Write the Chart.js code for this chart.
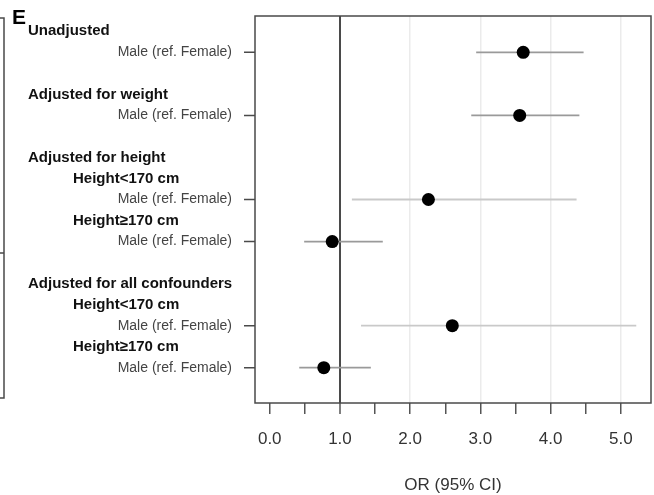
<!DOCTYPE html>
<html>
<head>
<meta charset="utf-8">
<script src="https://cdn.jsdelivr.net/npm/chart.js@4"></script>
<style>
  html, body { margin: 0; padding: 0; background: #fff; }
</style>
</head>
<body>
<canvas id="chart-or" width="654" height="495"></canvas>
<script>
// Odds ratios (male vs female), one row per estimate
const estRows = [1, 4, 8, 10, 14, 16];
const orValues = [3.61, 3.56, 2.26, 0.89, 2.60, 0.77];
const ciLower = [2.94, 2.87, 1.17, 0.49, 1.30, 0.42];
const ciUpper = [4.47, 4.41, 4.37, 1.61, 5.22, 1.44];
const estLabel = 'Male (ref. Female)';

// group headings on the left: text, row, nesting level
const headingText = ['Unadjusted', 'Adjusted for weight', 'Adjusted for height', 'Height<170 cm', 'Height≥170 cm',
    'Adjusted for all confounders', 'Height<170 cm', 'Height≥170 cm'];
const headingRow = [0, 3, 6, 7, 9, 12, 13, 15];
const headingLevel = [0, 0, 0, 1, 1, 0, 1, 1];

const xTicks = [0, 0.5, 1, 1.5, 2, 2.5, 3, 3.5, 4, 4.5, 5];
const refValue = 1;
const panelLetter = 'E';

const FONT = "'Liberation Sans', Arial, sans-serif";
Chart.defaults.font.family = FONT;

function gridColor(v) {
    if (v === refValue) return '#4a4a4a';
    if (Number.isInteger(v) && v > refValue) return '#ebebeb';
    return 'rgba(0,0,0,0)';
}

// frame, row ticks, left labels and the edge of the neighbouring panel
const sidePanel = {
    id: 'sidePanel',
    afterDraw(chart) {
        const { ctx, chartArea: a, scales: { y } } = chart;
        ctx.save();

        ctx.strokeStyle = '#4a4a4a';
        ctx.lineWidth = 1.5;
        ctx.strokeRect(a.left, a.top, a.right - a.left, a.bottom - a.top);

        ctx.beginPath();
        estRows.forEach(r => {
            const py = y.getPixelForValue(r);
            ctx.moveTo(a.left - 11, py);
            ctx.lineTo(a.left, py);
        });
        ctx.stroke();

        // right edge of previous panel
        ctx.beginPath();
        ctx.moveTo(0, 18); ctx.lineTo(4, 18); ctx.lineTo(4, 398); ctx.lineTo(0, 398);
        ctx.moveTo(0, 253); ctx.lineTo(4, 253);
        ctx.stroke();

        ctx.textBaseline = 'middle';
        ctx.fillStyle = '#111';
        ctx.font = 'bold 15px ' + FONT;
        ctx.textAlign = 'left';
        headingText.forEach((t, i) => {
            const px = headingLevel[i] === 0 ? 28 : 73;
            ctx.fillText(t, px, y.getPixelForValue(headingRow[i]));
        });

        ctx.fillStyle = '#444';
        ctx.font = '14px ' + FONT;
        ctx.textAlign = 'right';
        estRows.forEach(r => ctx.fillText(estLabel, 232, y.getPixelForValue(r)));

        ctx.fillStyle = '#000';
        ctx.font = 'bold 21px ' + FONT;
        ctx.textAlign = 'left';
        ctx.textBaseline = 'alphabetic';
        ctx.fillText(panelLetter, 12, 24);
        ctx.restore();
    }
};

const pointData = orValues.map((v, i) => ({ x: v, y: estRows[i] }));
const ciSets = estRows.map((r, i) => ({
    data: [{ x: ciLower[i], y: r }, { x: ciUpper[i], y: r }],
    showLine: true,
    borderColor: (ciUpper[i] - ciLower[i]) > 3 ? '#c9c9c9' : '#9a9a9a',
    borderWidth: 1.8,
    pointRadius: 0,
    order: 1,
}));

new Chart(document.getElementById('chart-or'), {
    type: 'scatter',
    data: {
        datasets: [{
            data: pointData,
            backgroundColor: '#000',
            borderWidth: 0,
            pointRadius: 6.5,
            order: 0,
        }, ...ciSets],
    },
    options: {
        responsive: false,
        animation: false,
        layout: { autoPadding: false, padding: { left: 255, top: 16, right: 3, bottom: 0 } },
        plugins: { legend: { display: false }, tooltip: { enabled: false } },
        scales: {
            x: {
                type: 'linear',
                min: -0.21,
                max: 5.43,
                afterBuildTicks: s => { s.ticks = xTicks.map(v => ({ value: v })); },
                afterFit: s => {
                    s.height = 92;
                    s.paddingLeft = 0;
                    s.paddingRight = 0;
                },
                border: { display: false },
                grid: {
                    color: c => gridColor(c.tick.value),
                    lineWidth: c => c.tick.value === refValue ? 2 : 1.5,
                    tickColor: '#555',
                    tickWidth: 1.5,
                    tickLength: 11,
                },
                ticks: {
                    color: '#333',
                    font: { size: 17 },
                    padding: 15,
                    autoSkip: false,
                    maxRotation: 0,
                    callback: v => Number.isInteger(v) ? v.toFixed(1) : '',
                },
                title: {
                    display: true,
                    text: 'OR (95% CI)',
                    color: '#333',
                    font: { size: 17 },
                    padding: { top: 0, bottom: -1 },
                },
            },
            y: {
                type: 'linear',
                min: -0.73,
                max: 17.68,
                reverse: true,
                display: false,
            },
        },
    },
    plugins: [sidePanel],
});
</script>
</body>
</html>
